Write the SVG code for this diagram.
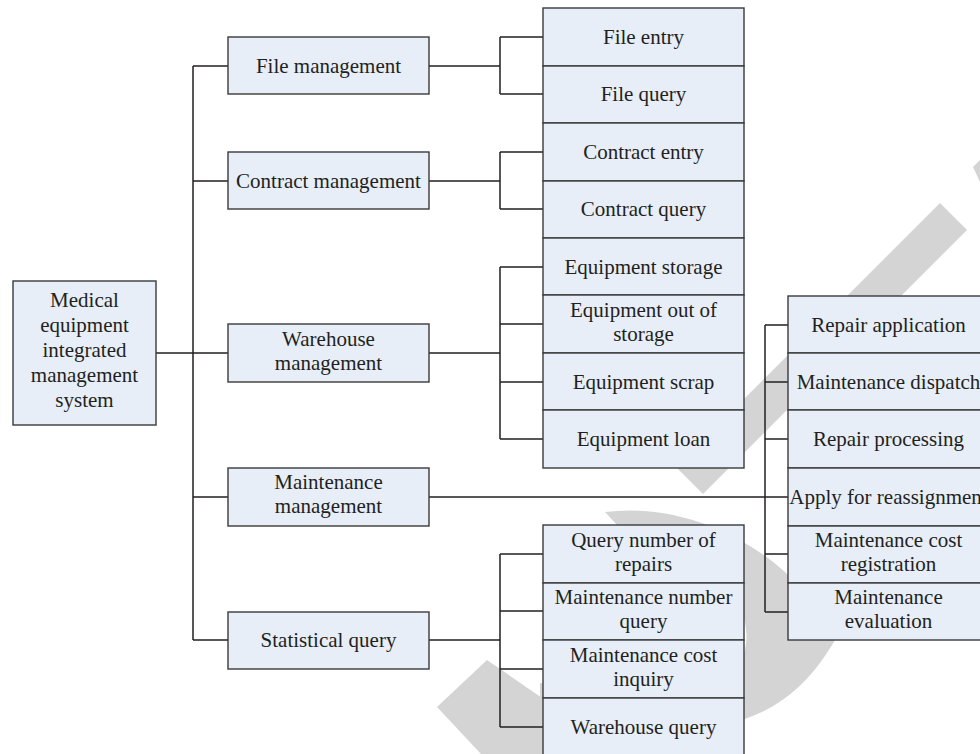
<svg xmlns="http://www.w3.org/2000/svg" width="980" height="754" viewBox="0 0 980 754">
<style>
.box{fill:#e7eef8;stroke:#3a3a3a;stroke-width:1.4}
.t{font-family:"Liberation Serif","Times New Roman",serif;font-size:21px;fill:#231f20;text-anchor:middle}
.ln{fill:none;stroke:#231f20;stroke-width:1.5}
.wm{fill:#d4d4d4;stroke:none}
</style>
<rect width="980" height="754" fill="#ffffff"/>
<g id="watermark">
<polygon class="wm" points="940,203 967,230 703,494 676,467"/>
<polygon class="wm" points="973,167 980,160 980,182"/>
<path class="wm" d="M605,512 C700,500 800,560 835,640 C800,700 760,720 700,730 L540,730 L540,683 C640,690 720,660 744,653 C760,600 700,540 617,525 Z"/>
<polygon class="wm" points="437,707 487,660 545,700 575,754 481,754"/>
</g>
<g id="connectors">
<path class="ln" d="M156,353 H193 M193,66 V640 M193,66 H228 M193,181 H228 M193,353 H228 M193,497 H228 M193,640 H228"/>
<path class="ln" d="M429,66 H500 M500,37 V94 M500,37 H543 M500,94 H543"/>
<path class="ln" d="M429,181 H500 M500,152 V209 M500,152 H543 M500,209 H543"/>
<path class="ln" d="M429,353 H500 M500,267 V439 M500,267 H543 M500,324 H543 M500,382 H543 M500,439 H543"/>
<path class="ln" d="M429,497 H765 M765,325 V612 M765,325 H788 M765,382 H788 M765,439 H788 M765,497 H788 M765,554 H788 M765,612 H788"/>
<path class="ln" d="M429,640 H500 M500,554 V727 M500,554 H543 M500,611 H543 M500,669 H543 M500,727 H543"/>
</g>
<g id="root"><rect class="box" x="13" y="281" width="143" height="144"/>
<text class="t" x="84.5" y="307">Medical</text><text class="t" x="84.5" y="332">equipment</text><text class="t" x="84.5" y="357">integrated</text><text class="t" x="84.5" y="382">management</text><text class="t" x="84.5" y="407">system</text></g>
<g id="file-management"><rect class="box" x="228" y="37" width="201" height="57"/><text class="t" x="328.5" y="73">File management</text></g>
<g id="contract-management"><rect class="box" x="228" y="152" width="201" height="57"/><text class="t" x="328.5" y="188">Contract management</text></g>
<g id="warehouse-management"><rect class="box" x="228" y="324" width="201" height="58"/><text class="t" x="328.5" y="346">Warehouse</text><text class="t" x="328.5" y="370">management</text></g>
<g id="maintenance-management"><rect class="box" x="228" y="468" width="201" height="58"/><text class="t" x="328.5" y="489">Maintenance</text><text class="t" x="328.5" y="513">management</text></g>
<g id="statistical-query"><rect class="box" x="228" y="612" width="201" height="57"/><text class="t" x="328.5" y="647">Statistical query</text></g>
<g id="file-entry"><rect class="box" x="543" y="8" width="201" height="58"/><text class="t" x="643.5" y="44">File entry</text></g>
<g id="file-query"><rect class="box" x="543" y="66" width="201" height="57"/><text class="t" x="643.5" y="101">File query</text></g>
<g id="contract-entry"><rect class="box" x="543" y="123" width="201" height="58"/><text class="t" x="643.5" y="159">Contract entry</text></g>
<g id="contract-query"><rect class="box" x="543" y="181" width="201" height="57"/><text class="t" x="643.5" y="216">Contract query</text></g>
<g id="equipment-storage"><rect class="box" x="543" y="238" width="201" height="57"/><text class="t" x="643.5" y="274">Equipment storage</text></g>
<g id="equipment-out-of-storage"><rect class="box" x="543" y="295" width="201" height="58"/><text class="t" x="643.5" y="317">Equipment out of</text><text class="t" x="643.5" y="341">storage</text></g>
<g id="equipment-scrap"><rect class="box" x="543" y="353" width="201" height="57"/><text class="t" x="643.5" y="389">Equipment scrap</text></g>
<g id="equipment-loan"><rect class="box" x="543" y="410" width="201" height="58"/><text class="t" x="643.5" y="446">Equipment loan</text></g>
<g id="query-number-of-repairs"><rect class="box" x="543" y="525" width="201" height="58"/><text class="t" x="643.5" y="547">Query number of</text><text class="t" x="643.5" y="571">repairs</text></g>
<g id="maintenance-number-query"><rect class="box" x="543" y="583" width="201" height="57"/><text class="t" x="643.5" y="604">Maintenance number</text><text class="t" x="643.5" y="628">query</text></g>
<g id="maintenance-cost-inquiry"><rect class="box" x="543" y="640" width="201" height="58"/><text class="t" x="643.5" y="662">Maintenance cost</text><text class="t" x="643.5" y="686">inquiry</text></g>
<g id="warehouse-query"><rect class="box" x="543" y="698" width="201" height="58"/><text class="t" x="643.5" y="734">Warehouse query</text></g>
<g id="repair-application"><rect class="box" x="788" y="296" width="201" height="57"/><text class="t" x="888.5" y="332">Repair application</text></g>
<g id="maintenance-dispatch"><rect class="box" x="788" y="353" width="201" height="57"/><text class="t" x="888.5" y="389">Maintenance dispatch</text></g>
<g id="repair-processing"><rect class="box" x="788" y="410" width="201" height="58"/><text class="t" x="888.5" y="446">Repair processing</text></g>
<g id="apply-for-reassignment"><rect class="box" x="788" y="468" width="201" height="58"/><text class="t" x="888.5" y="504">Apply for reassignment</text></g>
<g id="maintenance-cost-registration"><rect class="box" x="788" y="526" width="201" height="57"/><text class="t" x="888.5" y="547">Maintenance cost</text><text class="t" x="888.5" y="571">registration</text></g>
<g id="maintenance-evaluation"><rect class="box" x="788" y="583" width="201" height="57"/><text class="t" x="888.5" y="604">Maintenance</text><text class="t" x="888.5" y="628">evaluation</text></g>
</svg>
